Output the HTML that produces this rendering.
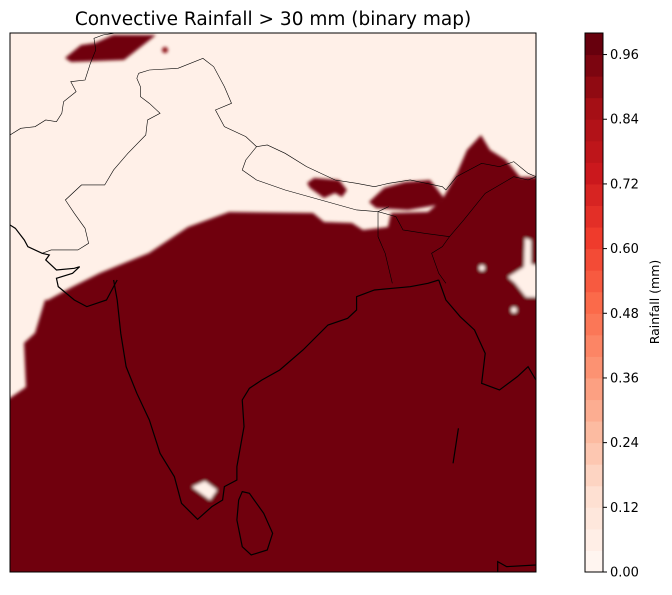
<!DOCTYPE html>
<html><head><meta charset="utf-8"><style>
body{margin:0;background:#fff;width:672px;height:590px;overflow:hidden}
text{font-family:"DejaVu Sans","Liberation Sans",sans-serif}
</style></head><body>
<svg width="672" height="590" xmlns="http://www.w3.org/2000/svg">
<defs>
<clipPath id="mc"><rect x="10" y="33" width="526" height="539"/></clipPath>
<filter id="bl" x="-5%" y="-5%" width="110%" height="110%"><feGaussianBlur stdDeviation="1.6"/></filter>
</defs>
<text x="273" y="25" font-size="18.5" text-anchor="middle">Convective Rainfall &gt; 30 mm (binary map)</text>
<g clip-path="url(#mc)">
<rect x="10" y="33" width="526" height="539" fill="#fff0e8"/>
<g filter="url(#bl)">
<polygon fill="#6f000e" points="-5,572 -5,398 10,398 26,387 24,343 35,333 45,300 48,300 72,287 100,273 149,253 188,227 229,212 313,213 324,222 352,223 363,230 388,227 391,213 428,212 442,200 457,173 467,150 481,135 490,150 506,160 520,177 545,177 545,580 -5,580"/>
<polygon fill="#6f000e" points="65,58 81,45 95,43 113,35 156,35 124,60 71,62"/>
<circle cx="165" cy="50" r="3" fill="#8a0a12"/>
<polygon fill="#6f000e" points="307,183 314,178 339,180 347,190 342,197 335,193 324,198 310,188"/>
<polygon fill="#6f000e" points="369,202 384,188 405,182 430,180 444,198 437,205 408,210 376,208"/>
<polygon fill="#fff0e8" points="525,238 531,240 531,264 545,267 545,297 526,297 515,283 508,277 524,267"/>
<polygon fill="#fff0e8" points="192,487 205,481 217,490 210,500"/>
<circle cx="482" cy="268" r="3" fill="#fff0e8"/>
<circle cx="514" cy="310" r="3" fill="#fff0e8"/>
</g>
<g fill="none" stroke="#000">
<g transform="matrix(0.3573 0 0 0.3333 -0.72 20)">
<polyline vector-effect="non-scaling-stroke" stroke-width="0.6" points="30,345 60,325 100,320 130,300 160,305 175,280 180,245 215,215 200,185 240,180 255,130 270,90 265,55 290,45 320,40"/>
<polyline vector-effect="non-scaling-stroke" stroke-width="0.6" points="390,160 420,150 500,145 570,115 600,140 630,200 650,250 605,270 630,320 690,350 720,380 750,375 800,400 860,440 940,480 1000,490 1050,500 1090,490 1150,480 1240,500 1250,510 1280,470 1350,430 1400,440 1440,425 1480,460 1502,470"/>
<polyline vector-effect="non-scaling-stroke" stroke-width="0.6" points="720,380 690,420 680,450 720,480 800,510 900,540 1000,570 1060,575 1090,560"/>
<polyline vector-effect="non-scaling-stroke" stroke-width="0.6" points="390,160 385,175 395,200 395,230 420,250 450,280 415,300 410,345 360,400 320,450 295,495 230,495 185,540 210,580 240,625 250,670 220,690 145,690 120,700"/>
<polyline vector-effect="non-scaling-stroke" stroke-width="0.6" points="1060,575 1110,590 1130,630 1190,640 1260,650 1240,680 1210,700 1230,760 1250,790"/>
<polyline vector-effect="non-scaling-stroke" stroke-width="0.6" points="1260,650 1300,600 1360,520 1440,470 1480,480 1502,470"/>
<polyline vector-effect="non-scaling-stroke" stroke-width="0.6" points="1060,575 1060,650 1080,700 1100,790"/>
<polyline vector-effect="non-scaling-stroke" stroke-width="1.2" points="30,615 45,625 70,660 80,680 120,700 140,705 130,720 160,750 210,745 225,740 205,760 160,775 165,800 210,840 245,860 300,840 320,800 330,780"/>
</g>
<g transform="matrix(0.3573 0 0 0.3333 -0.72 280)">
<polyline vector-effect="non-scaling-stroke" stroke-width="1.2" points="320,0 330,60 340,160 355,260 385,340 420,420 450,520 490,590 510,670 555,718 595,680 625,660 630,620 665,600 665,560 685,440 680,360 700,325 735,300 785,270 850,210 920,135 975,115 1000,90 1000,50 1050,30 1100,25 1150,20 1200,10 1230,0"/>
<polygon vector-effect="non-scaling-stroke" stroke-width="1.2" points="680,635 700,640 740,700 765,760 750,810 705,825 680,800 665,720 670,660"/>
<polyline vector-effect="non-scaling-stroke" stroke-width="1.2" points="1230,0 1250,60 1290,110 1330,150 1360,220 1350,310 1400,330 1450,290 1480,260 1502,300"/>
<polyline vector-effect="non-scaling-stroke" stroke-width="1.2" points="1285,445 1280,480 1270,550"/>
<polyline vector-effect="non-scaling-stroke" stroke-width="1.2" points="1395,877 1395,845 1420,860 1502,855"/>
</g>
</g>
</g>
<rect x="10" y="33" width="526" height="539" fill="none" stroke="#000" stroke-width="1"/>
<g id="cb"></g>
<text transform="translate(659,302) rotate(-90)" font-size="12.5" text-anchor="middle">Rainfall (mm)</text>
</svg>
<script>
const levels = Array.from({length:26},(_,i)=>i*0.04);
const tickValues = [0,0.12,0.24,0.36,0.48,0.60,0.72,0.84,0.96];
const tickLabels = ["0.00","0.12","0.24","0.36","0.48","0.60","0.72","0.84","0.96"];
const stops=[[0,[255,245,240]],[0.125,[254,224,210]],[0.25,[252,187,161]],[0.375,[252,146,114]],[0.5,[251,106,74]],[0.625,[239,59,44]],[0.75,[203,24,29]],[0.875,[165,15,21]],[1,[103,0,13]]];
function cmap(t){for(let i=1;i<stops.length;i++){if(t<=stops[i][0]){const a=stops[i-1],b=stops[i],f=(t-a[0])/(b[0]-a[0]);return 'rgb('+a[1].map((v,k)=>Math.round(v+(b[1][k]-v)*f)).join(',')+')';}}return 'rgb(103,0,13)';}
const ns="http://www.w3.org/2000/svg", g=document.getElementById('cb');
const y0=572,y1=33,cx=585,cw=18;
const yv=v=>y0-(v-levels[0])/(levels[levels.length-1]-levels[0])*(y0-y1);
const nb=levels.length-1;
for(let i=0;i<nb;i++){const r=document.createElementNS(ns,'rect');
r.setAttribute('x',cx);r.setAttribute('y',yv(levels[i+1]));r.setAttribute('width',cw);r.setAttribute('height',yv(levels[i])-yv(levels[i+1])+0.5);
r.setAttribute('fill',cmap(i/(nb-1)));


g.appendChild(r);}
const fr=document.createElementNS(ns,'rect');fr.setAttribute('x',cx);fr.setAttribute('y',y1);fr.setAttribute('width',cw);fr.setAttribute('height',y0-y1);fr.setAttribute('fill','none');fr.setAttribute('stroke','#000');


g.appendChild(fr);
tickValues.forEach((v,i)=>{const y=yv(v);const l=document.createElementNS(ns,'line');l.setAttribute('x1',cx+cw);l.setAttribute('x2',cx+cw+4);l.setAttribute('y1',y);l.setAttribute('y2',y);l.setAttribute('stroke','#000');


g.appendChild(l);
const t=document.createElementNS(ns,'text');t.setAttribute('x',cx+cw+7);t.setAttribute('y',y+4.5);t.setAttribute('font-size','13');t.textContent=tickLabels[i];


g.appendChild(t);});
</script>
</body></html>
